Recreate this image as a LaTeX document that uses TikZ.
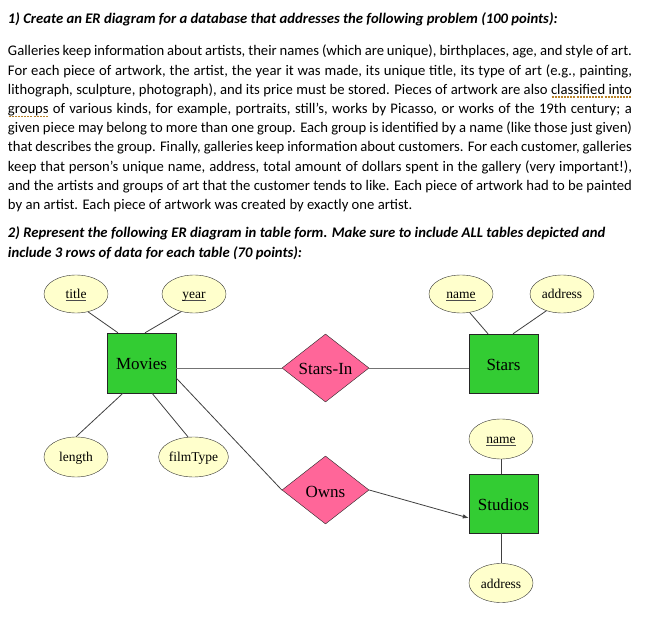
\documentclass[tikz,border=0pt]{standalone}
\usepackage{fontspec}
\setmainfont{Carlito}
\newfontfamily\erfont{Liberation Serif}
\usetikzlibrary{shapes.geometric,arrows.meta,calc}
\definecolor{entgreen}{RGB}{51,204,51}
\definecolor{relpink}{RGB}{255,102,153}
\definecolor{attryel}{RGB}{255,255,204}
\definecolor{squigcol}{RGB}{185,130,40}
\newcommand\squig[1]{\setbox0\hbox{#1}\rlap{\raisebox{-3.4pt}{\textcolor{squigcol}{\xleaders\hbox to 3pt{\hss\rule{2pt}{1.3pt}\hss}\hskip\wd0}}}\box0\relax}
\newcommand\jline[1]{\makebox[624pt][s]{#1}}
\newcommand\ulin[1]{\setbox2\hbox{#1}\rlap{\textcolor{black!70}{\rule[-1.8pt]{\wd2}{0.7pt}}}\box2\relax}
\begin{document}
\begin{tikzpicture}[x=1pt,y=-1pt,
  txt/.style={anchor=base west,inner sep=0,outer sep=0,font=\fontsize{14.67}{17}\selectfont},
  hd/.style={anchor=base west,inner sep=0,outer sep=0,font=\fontsize{14.67}{17}\selectfont\bfseries\itshape},
  ent/.style={draw=black!85, fill=entgreen, minimum width=69pt, minimum height=60pt, inner sep=0, text height=15pt, text depth=1pt, font=\erfont\fontsize{17}{20}\selectfont},
  attr/.style={ellipse, draw=black!80, fill=attryel, minimum width=64pt, minimum height=38pt, inner sep=0, text height=11.5pt, text depth=1.5pt, font=\erfont\fontsize{13.5}{16}\selectfont},
  rel/.style={diamond, draw=black!85, fill=relpink, minimum width=87pt, minimum height=68pt, aspect=1.28, inner sep=0, text height=15pt, text depth=1pt, font=\erfont\fontsize{17}{20}\selectfont},
  conn/.style={draw=black!75, line width=0.8pt},
  lconn/.style={draw=black!55, line width=0.9pt}
]
\useasboundingbox[fill=white] (0,0) rectangle (651,617);

% text
\node[hd] (h1) at (8,24) {1) Create an ER diagram for a database that addresses the following problem (100 points):};
\node[txt] (l1) at (8,56) {\jline{Galleries keep information about artists, their names (which are unique), birthplaces, age, and style of art.}};
\node[txt] (l2) at (8,75.2) {\jline{For each piece of artwork, the artist, the year it was made, its unique title, its type of art (e.g., painting,}};
\node[txt] (l3) at (8,94.4) {\jline{lithograph, sculpture, photograph), and its price must be stored. Pieces of artwork are also \squig{classified into}}};
\node[txt] (l4) at (8,113.6) {\jline{\squig{groups} of various kinds, for example, portraits, still’s, works by Picasso, or works of the 19th century; a}};
\node[txt] (l5) at (8,132.8) {\jline{given piece may belong to more than one group. Each group is identified by a name (like those just given)}};
\node[txt] (l6) at (8,152) {\jline{that describes the group. Finally, galleries keep information about customers. For each customer, galleries}};
\node[txt] (l7) at (8,171.2) {\jline{keep that person’s unique name, address, total amount of dollars spent in the gallery (very important!),}};
\node[txt] (l8) at (8,190.4) {\jline{and the artists and groups of art that the customer tends to like. Each piece of artwork had to be painted}};
\node[txt] (l9) at (8,209.6) {by an artist. Each piece of artwork was created by exactly one artist.};
\node[hd] (h2) at (8,238) {2) Represent the following ER diagram in table form. Make sure to include ALL tables depicted and};
\node[hd] (h3) at (8,257.2) {include 3 rows of data for each table (70 points):};

% entities
\node[ent] (Movies) at (141.5,363) {Movies};
\node[ent, minimum height=59pt] (Stars) at (503.5,363.5) {Stars};
\node[ent, minimum height=59pt] (Studios) at (503.5,503.5) {Studios};
% relationships
\node[rel] (SI) at (325.5,368) {Stars-In};
\node[rel] (Owns) at (325.5,490) {Owns};
% attributes
\node[attr] (title) at (76,294) {\ulin{title}};
\node[attr] (year) at (194,294) {\ulin{year}};
\node[attr] (sname) at (461,294) {\ulin{name}};
\node[attr] (saddr) at (562,294) {address};
\node[attr, minimum height=40pt] (length) at (76,457) {length};
\node[attr, minimum height=40pt] (ftype) at (193.5,457) {filmType};
\node[attr, minimum height=40pt] (stname) at (501,439) {\ulin{name}};
\node[attr, minimum height=39pt] (staddr) at (501,583) {address};

% connectors
\draw[conn] (title.-56) -- ($(Movies.north)+(-23.5,0)$);
\draw[conn] (year.-126) -- ($(Movies.north)+(3.5,0)$);
\draw[conn] (length.north) -- ($(Movies.south)+(-18.5,0)$);
\draw[conn] (ftype.105) -- ($(Movies.south)+(10.5,0)$);
\draw[conn] (sname.-65) -- ($(Stars.north)+(-15.5,0)$);
\draw[conn] (saddr.-133) -- ($(Stars.north)+(9.5,0)$);
\draw[conn] (stname.south) -- (stname.south |- Studios.north);
\draw[conn] (staddr.north |- Studios.south) -- (staddr.north);
\draw[lconn] (Movies.east |- SI.west) -- (SI.west);
\draw[lconn] (SI.east) -- (Stars.west |- SI.east);
\draw[conn] ($(Movies.east)+(0,15)$) -- (Owns.west);
\draw[conn, -{Latex[length=6pt,width=4.5pt]}] (Owns.east) -- ($(Studios.west)+(0,14.5)$);
\end{tikzpicture}
\end{document}
